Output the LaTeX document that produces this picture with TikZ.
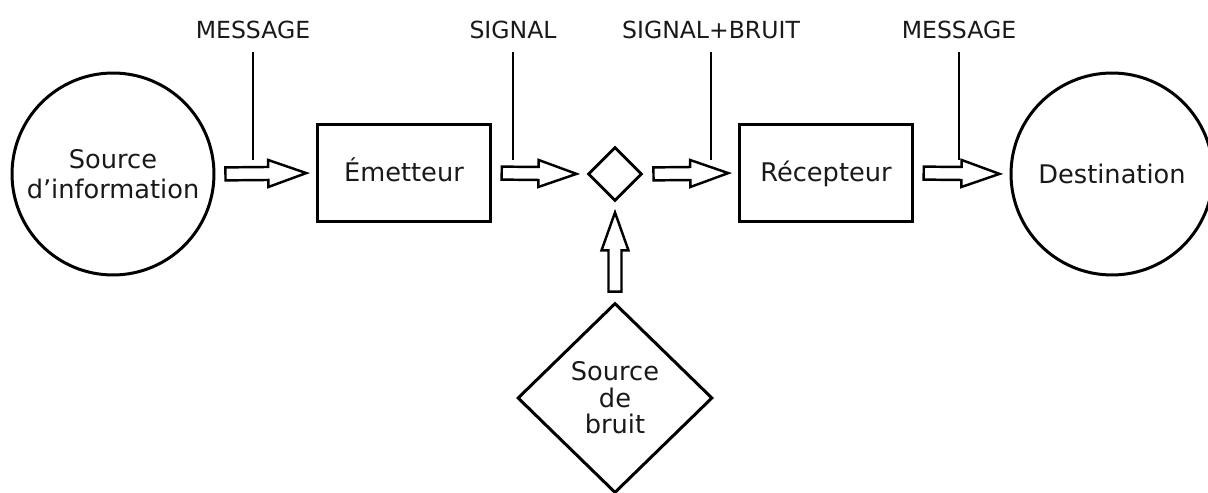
\documentclass[tikz,border=0pt]{standalone}
\usepackage{fontspec}
\setmainfont{DejaVu Sans}
\usetikzlibrary{calc,shapes.geometric}

% hollow block arrow between two anchors
\newcommand{\hollowarrow}[2]{%
  \coordinate (ha-s) at ($(#1)!0.2cm!(#2)$);
  \coordinate (ha-t) at ($(#2)!0.2cm!(#1)$);
  \coordinate (ha-h) at ($(ha-t)!0.76cm!(ha-s)$);
  \draw[flowarrow] ($(ha-s)!0.13cm!90:(ha-t)$) -- ($(ha-h)!0.13cm!-90:(ha-s)$)
    -- ($(ha-h)!0.27cm!-90:(ha-s)$) -- (ha-t) -- ($(ha-h)!0.27cm!90:(ha-s)$)
    -- ($(ha-h)!0.13cm!90:(ha-s)$) -- ($(ha-s)!0.13cm!-90:(ha-t)$) -- cycle;}

\begin{document}
\begin{tikzpicture}[
  x=0.02cm, y=-0.02cm,
  source/.style={circle, draw, line width=1.7pt, minimum size=4.04cm, inner sep=0pt, align=center, text=black!90, font=\fontsize{14.6}{17}\selectfont},
  block/.style={rectangle, draw, line width=1.7pt, minimum width=3.45cm, minimum height=1.96cm, text height=12pt, text depth=2pt, text=black!90, font=\fontsize{14.6}{17}\selectfont},
  junction/.style={diamond, draw, line width=1.7pt, minimum width=1.08cm, minimum height=1.08cm, inner sep=0pt},
  noise/.style={diamond, draw, line width=1.7pt, minimum width=3.9cm, minimum height=3.8cm, inner sep=0pt, align=center, text=black!90, font=\fontsize{14.6}{15}\selectfont},
  tag/.style={text=black!90, font=\fontsize{13.4}{15}\selectfont},
  tick/.style={line width=1.4pt, shorten <=4pt},
  flowarrow/.style={draw, line width=1.4pt, fill=white, line join=miter}
]
  \useasboundingbox (0,0) rectangle (1208,493);

  % Chain of blocks
  \node[source] (info) at (113,174) {Source\\d’information};
  \node[block] (emet) at (404,173) {Émetteur};
  \node[junction] (mix) at (615,174) {};
  \node[block] (recep) at (826,173) {Récepteur};
  \node[source] (dest) at (1112,174) {Destination};
  \node[noise] (bruit) at (615,398) {Source\\de\\bruit};

  % Hollow arrows
  \hollowarrow{info.east}{emet.west}
  \hollowarrow{emet.east}{mix.west}
  \hollowarrow{mix.east}{recep.west}
  \hollowarrow{recep.east}{dest.west}
  \hollowarrow{bruit.north}{mix.south}

  % Labels and ticks
  \node[tag] (msgin) at (253,30) {MESSAGE};
  \node[tag] (sig) at (513,30) {SIGNAL};
  \node[tag] (sigb) at (711,30) {SIGNAL+BRUIT};
  \node[tag] (msgout) at (959,30) {MESSAGE};
  \coordinate (t1) at (253,160);
  \coordinate (t2) at (513,160);
  \coordinate (t3) at (711,160);
  \coordinate (t4) at (959,160);
  \draw[tick] (msgin.south) -- (t1);
  \draw[tick] (sig.south) -- (t2);
  \draw[tick] (sigb.south) -- (t3);
  \draw[tick] (msgout.south) -- (t4);
\end{tikzpicture}
\end{document}
